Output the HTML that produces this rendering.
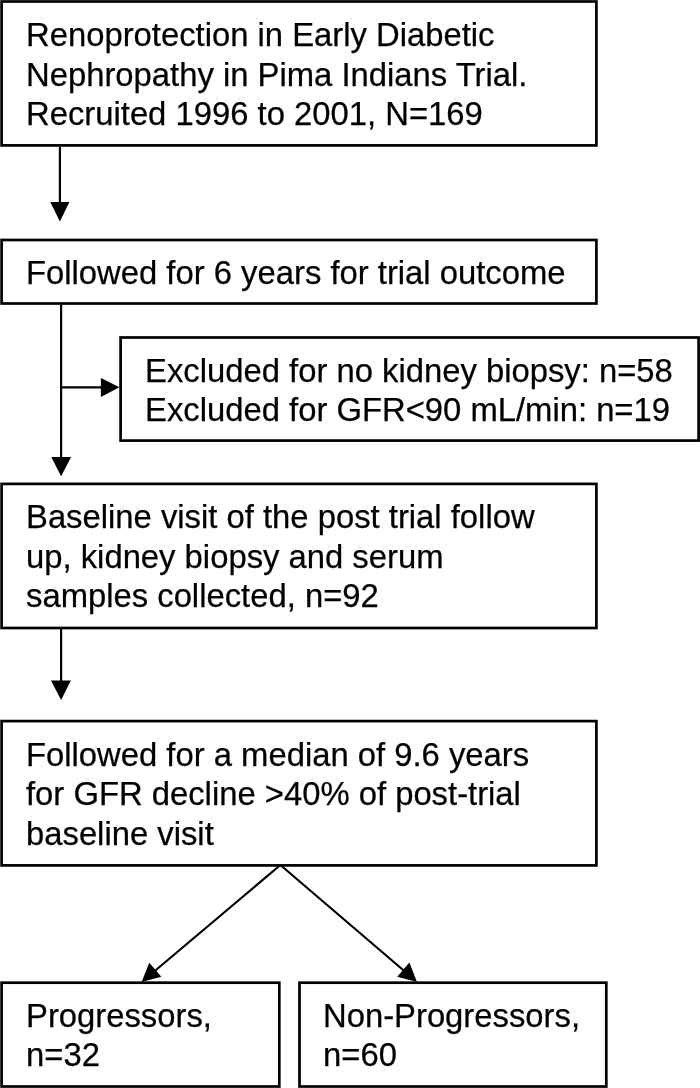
<!DOCTYPE html>
<html><head><meta charset="utf-8">
<style>
html,body{margin:0;padding:0;background:#fff;width:700px;height:1088px;overflow:hidden;}
body{position:relative;font-family:"Liberation Sans",sans-serif;color:#000;}
svg{position:absolute;left:0;top:0;}
.t{position:absolute;font-size:32.8px;line-height:37px;white-space:nowrap;will-change:transform;-webkit-text-stroke:0.25px #000;}
</style></head><body>
<svg width="700" height="1088" viewBox="0 0 700 1088">
<g fill="none" stroke="#000" stroke-width="2.7">
<rect x="1.6" y="1.5" width="594.8" height="143.9"/>
<rect x="1.6" y="240" width="594.8" height="63.5"/>
<rect x="120.6" y="337.5" width="578" height="103.1"/>
<rect x="1.6" y="483.9" width="594.8" height="144.1"/>
<rect x="1.6" y="721.1" width="594.8" height="144.3"/>
<rect x="1.6" y="982.7" width="277.7" height="103.8"/>
<rect x="299.5" y="982.7" width="306.8" height="103.8"/>
</g>
<g fill="none" stroke="#000" stroke-width="2.2">
<line x1="59.9" y1="147" x2="59.9" y2="203"/>
<line x1="61.1" y1="305" x2="61.1" y2="458"/>
<line x1="61.1" y1="387.3" x2="102" y2="387.3"/>
<line x1="61.1" y1="629" x2="61.1" y2="681"/>
<line x1="280.4" y1="865" x2="150" y2="975"/>
<line x1="280.4" y1="865" x2="409" y2="975"/>
</g>
<g fill="#000" stroke="none">
<polygon points="50.3,202 69.4,202 59.9,221.5"/>
<polygon points="51.3,457 71.1,457 61.1,476.3"/>
<polygon points="100.9,377.9 100.9,397 119.5,387.3"/>
<polygon points="51,680.4 70.9,680.4 61.1,699.9"/>
<polygon points="141.6,982 149.3,962.7 161.3,976.8"/>
<polygon points="417,982 409.4,962.5 397.2,976.8"/>
</g>
</svg>
<div class="t" style="left:25.6px;top:16px">Renoprotection in Early Diabetic</div>
<div class="t" style="left:25.6px;top:55.5px">Nephropathy in Pima Indians Trial.</div>
<div class="t" style="left:25.6px;top:95.3px">Recruited 1996 to 2001, N=169</div>
<div class="t" style="left:25.6px;top:254px">Followed for 6 years for trial outcome</div>
<div class="t" style="left:144.9px;top:351.8px">Excluded for no kidney biopsy: n=58</div>
<div class="t" style="left:144.9px;top:391.3px">Excluded for GFR&lt;90 mL/min: n=19</div>
<div class="t" style="left:25.6px;top:497.8px">Baseline visit of the post trial follow</div>
<div class="t" style="left:25.6px;top:537.6px">up, kidney biopsy and serum</div>
<div class="t" style="left:25.6px;top:577px">samples collected, n=92</div>
<div class="t" style="left:25.6px;top:735.5px">Followed for a median of 9.6 years</div>
<div class="t" style="left:25.6px;top:775px">for GFR decline &gt;40% of post-trial</div>
<div class="t" style="left:25.6px;top:814.6px">baseline visit</div>
<div class="t" style="left:25.6px;top:996.6px">Progressors,</div>
<div class="t" style="left:25.6px;top:1036px">n=32</div>
<div class="t" style="left:322.9px;top:996.6px">Non-Progressors,</div>
<div class="t" style="left:322.9px;top:1036px">n=60</div>
</body></html>
